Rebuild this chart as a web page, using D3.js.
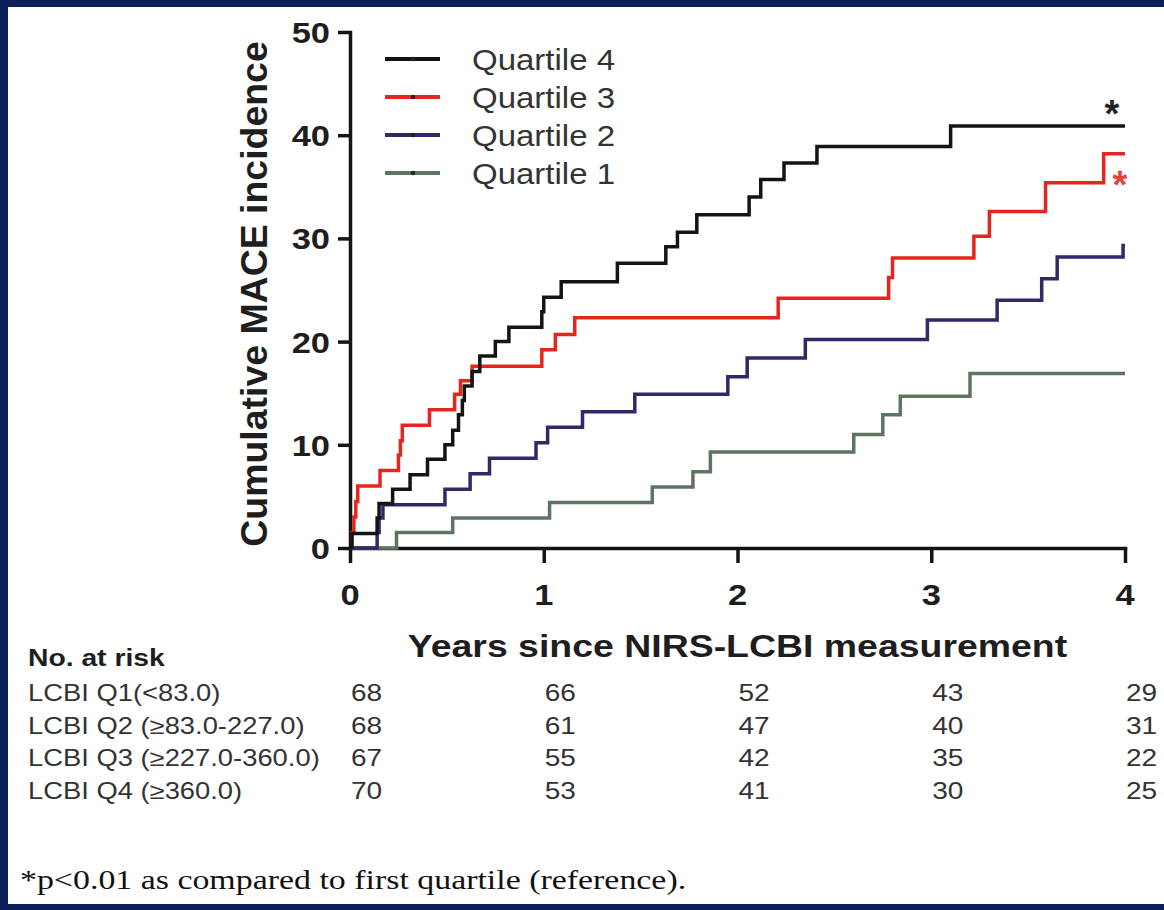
<!DOCTYPE html>
<html><head><meta charset="utf-8">
<script src="https://cdn.jsdelivr.net/npm/d3@7"></script>
<style>html,body{margin:0;padding:0;background:#0b1f5b;} svg{display:block}</style>
</head><body>
<svg id="chart" width="1164" height="910"></svg>
<script>
// ---------- data ----------
const xTicks = [0, 1, 2, 3, 4];
const yTicks = [0, 10, 20, 30, 40, 50];
const seriesNames = ["Quartile 4", "Quartile 3", "Quartile 2", "Quartile 1"];

const q4Times  = [0, 0.01, 0.14, 0.15, 0.22, 0.31, 0.40, 0.49, 0.53, 0.56, 0.58, 0.59, 0.63, 0.67, 0.75, 0.82, 0.99, 1.00, 1.09, 1.38, 1.63, 1.69, 1.79, 2.06, 2.12, 2.24, 2.41, 3.10, 4.0];
const q4Values = [0, 1.4, 2.9, 4.3, 5.7, 7.1, 8.6, 10.0, 11.4, 12.9, 14.3, 15.7, 17.1, 18.6, 20.0, 21.4, 22.9, 24.3, 25.8, 27.6, 29.2, 30.6, 32.3, 34.0, 35.7, 37.3, 38.9, 40.9, 40.9];

const q3Times  = [0, 0.01, 0.02, 0.03, 0.04, 0.155, 0.25, 0.26, 0.27, 0.41, 0.54, 0.57, 0.63, 0.99, 1.06, 1.16, 2.21, 2.78, 2.80, 3.22, 3.30, 3.59, 3.89, 4.0];
const q3Values = [0, 1.5, 3.0, 4.5, 6.0, 7.5, 9.0, 10.4, 11.9, 13.4, 14.9, 16.2, 17.6, 19.2, 20.7, 22.3, 24.2, 26.2, 28.1, 30.2, 32.6, 35.4, 38.2, 38.2];

const q2Times  = [0, 0.14, 0.15, 0.17, 0.49, 0.62, 0.72, 0.96, 1.02, 1.20, 1.47, 1.95, 2.05, 2.35, 2.98, 3.34, 3.57, 3.65, 3.99, 4.0];
const q2Values = [0, 1.5, 2.9, 4.2, 5.7, 7.2, 8.7, 10.2, 11.7, 13.2, 14.9, 16.6, 18.4, 20.2, 22.1, 24.0, 26.1, 28.2, 29.3, 29.3];

const q1Times  = [0, 0.24, 0.53, 1.03, 1.56, 1.77, 1.86, 2.60, 2.75, 2.84, 3.20, 4.0];
const q1Values = [0, 1.5, 2.9, 4.4, 5.9, 7.4, 9.3, 11.0, 12.9, 14.7, 16.9, 16.9];

const riskGroups = ["LCBI Q1(<83.0)", "LCBI Q2 (\u226583.0-227.0)", "LCBI Q3 (\u2265227.0-360.0)", "LCBI Q4 (\u2265360.0)"];
const riskQ1 = [68, 66, 52, 43, 29];
const riskQ2 = [68, 61, 47, 40, 31];
const riskQ3 = [67, 55, 42, 35, 22];
const riskQ4 = [70, 53, 41, 30, 25];

const significant = ["Quartile 4", "Quartile 3"];

// ---------- styles ----------
const colors = {"Quartile 4": "#141414", "Quartile 3": "#e5261f", "Quartile 2": "#302968", "Quartile 1": "#5e7462"};
const starColors = {"Quartile 4": "#222222", "Quartile 3": "#e8403a"};
const SANS = "'Liberation Sans', Arial, Helvetica, sans-serif";
const SERIF = "'Liberation Serif', 'Times New Roman', serif";

const svg = d3.select("#chart");
svg.append("rect").attr("x", 8).attr("y", 7).attr("width", 1156).attr("height", 897).attr("fill", "#ffffff");

const x = d3.scaleLinear().domain([0, 4]).range([350, 1125]);
const y = d3.scaleLinear().domain([0, 50]).range([548, 32]);

function label(parent, str, px, py, o) {
  const tr = `translate(${px},${py})` + (o.rot ? ` rotate(${o.rot})` : "") + ` scale(${o.sx || 1},1)`;
  return parent.append("text")
    .attr("transform", tr)
    .attr("font-family", o.family || SANS)
    .attr("font-size", o.fs)
    .attr("font-weight", o.bold ? "bold" : "normal")
    .attr("fill", o.fill || "#222")
    .attr("text-anchor", o.anchor || "start")
    .text(str);
}

// ---------- axes ----------
const gy = svg.append("g").attr("transform", `translate(${x(0)},0)`)
  .call(d3.axisLeft(y).tickValues(yTicks).tickSize(12).tickSizeOuter(0).tickFormat(""));
const gx = svg.append("g").attr("transform", `translate(0,${y(0)})`)
  .call(d3.axisBottom(x).tickValues(xTicks).tickSize(15).tickSizeOuter(0).tickFormat(""));
[gx, gy].forEach(g => {
  g.select(".domain").attr("stroke", "#141414").attr("stroke-width", 3.5).attr("stroke-linecap", "square");
  g.selectAll(".tick line").attr("stroke", "#141414").attr("stroke-width", 3.5);
});

yTicks.forEach(v => label(svg, String(v), 330, y(v) + 11, {fs: 30, bold: true, anchor: "end", sx: 1.15, fill: "#1e1e1e"}));
xTicks.forEach(t => label(svg, String(t), x(t), 605, {fs: 30, bold: true, anchor: "middle", sx: 1.15, fill: "#1e1e1e"}));

label(svg, "Cumulative MACE incidence", 267, 294, {fs: 36, bold: true, anchor: "middle", rot: -90, sx: 1.04, fill: "#1e1e1e"});
label(svg, "Years since NIRS-LCBI measurement", x(2), 657, {fs: 32, bold: true, anchor: "middle", sx: 1.17, fill: "#1e1e1e"});

// ---------- curves ----------
const series = [
  {name: "Quartile 1", t: q1Times, v: q1Values},
  {name: "Quartile 2", t: q2Times, v: q2Values},
  {name: "Quartile 3", t: q3Times, v: q3Values},
  {name: "Quartile 4", t: q4Times, v: q4Values}
];
const line = d3.line().x(d => x(d[0])).y(d => y(d[1])).curve(d3.curveStepAfter);
svg.append("g").selectAll("path").data(series).join("path")
  .attr("d", s => line(s.t.map((t, i) => [t, s.v[i]])))
  .attr("fill", "none")
  .attr("stroke", s => colors[s.name])
  .attr("stroke-width", 3.5);

// significance asterisks
const starOffset = {"Quartile 4": [1112, -20], "Quartile 3": [1120, 23]};
significant.forEach(n => {
  const s = series.find(d => d.name === n);
  const last = s.v[s.v.length - 1];
  const [sxp, dy] = starOffset[n];
  label(svg, "*", sxp, y(last) + dy + 21, {fs: 38, bold: true, anchor: "middle", fill: starColors[n]});
});

// ---------- legend ----------
const lg = svg.append("g");
seriesNames.forEach((n, i) => {
  const ly = 59 + i * 38;
  lg.append("line").attr("x1", 385).attr("x2", 440).attr("y1", ly).attr("y2", ly)
    .attr("stroke", colors[n]).attr("stroke-width", 4);
  lg.append("circle").attr("cx", 413).attr("cy", ly).attr("r", 2.2).attr("fill", "#222");
  label(lg, n, 472, ly + 11, {fs: 30, sx: 1.1, fill: "#333"});
});

// ---------- number at risk ----------
const riskRows = [riskQ1, riskQ2, riskQ3, riskQ4];
label(svg, "No. at risk", 28, 666, {fs: 23, bold: true, sx: 1.23, fill: "#1e1e1e"});
riskGroups.forEach((g, i) => {
  const by = 701 + i * 32.7;
  label(svg, g, 28, by, {fs: 23, sx: 1.19, fill: "#333"});
  riskRows[i].forEach((n, j) => label(svg, String(n), x(xTicks[j]) + 1, by, {fs: 23, sx: 1.22, fill: "#333"}));
});

label(svg, "*p<0.01 as compared to first quartile (reference).", 20, 889, {fs: 27, family: SERIF, sx: 1.255, fill: "#111"});
</script>
</body></html>
